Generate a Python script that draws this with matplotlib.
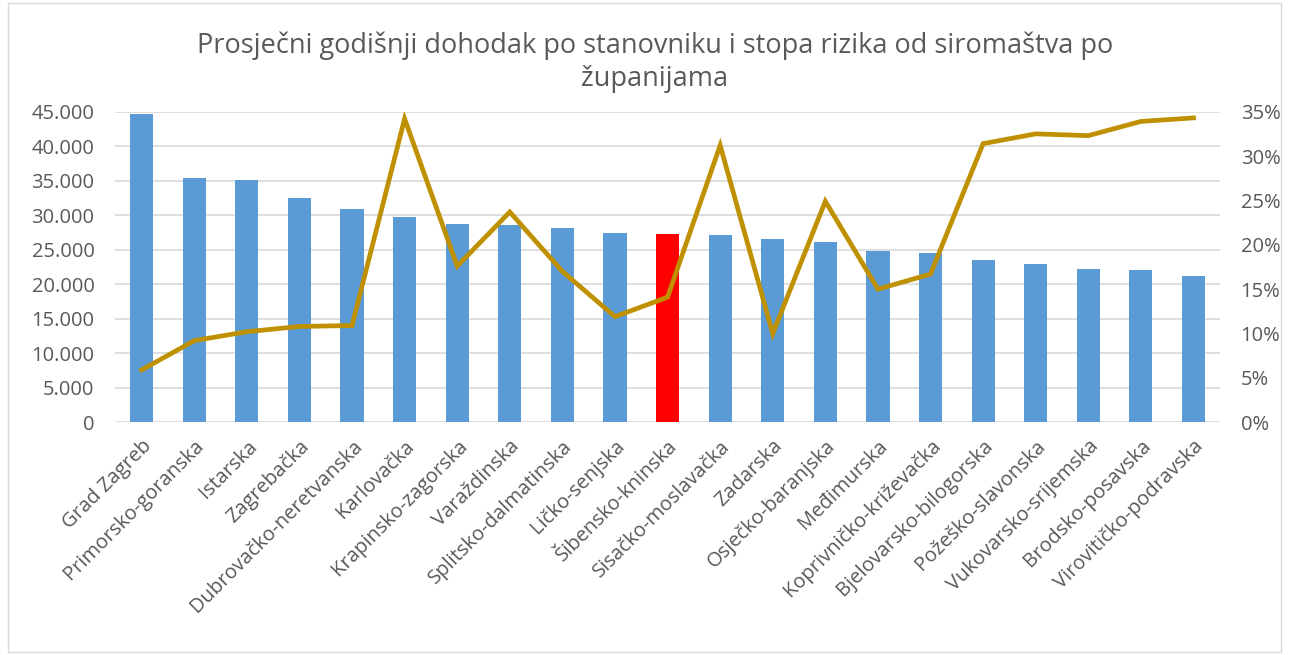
import matplotlib.pyplot as plt
from matplotlib.patches import Rectangle
from matplotlib.ticker import FuncFormatter, MultipleLocator

# data
zupanije = [
    "Grad Zagreb", "Primorsko-goranska", "Istarska", "Zagrebačka",
    "Dubrovačko-neretvanska", "Karlovačka", "Krapinsko-zagorska",
    "Varaždinska", "Splitsko-dalmatinska", "Ličko-senjska",
    "Šibensko-kninska", "Sisačko-moslavačka", "Zadarska",
    "Osječko-baranjska", "Međimurska", "Koprivničko-križevačka",
    "Bjelovarsko-bilogorska", "Požeško-slavonska", "Vukovarsko-srijemska",
    "Brodsko-posavska", "Virovitičko-podravska",
]
dohodak = [44660, 35340, 35150, 32540, 30900, 29690, 28780, 28630, 28200,
           27380, 27230, 27140, 26600, 26170, 24770, 24530, 23470, 22890,
           22210, 22020, 21250]
stopa_rizika = [5.9, 9.2, 10.2, 10.8, 10.9, 34.2, 17.6, 23.7, 17.0, 11.9,
                14.1, 31.2, 10.0, 24.9, 15.0, 16.7, 31.4, 32.5, 32.3, 33.9,
                34.3]
istaknuta = "Šibensko-kninska"

plt.rcParams['font.family'] = ['Open Sans', 'DejaVu Sans']
siva = "#595959"

fig = plt.figure(figsize=(12.89, 6.55), dpi=100)
ax = fig.add_axes([0.0895, 0.3553, 0.8568, 0.4742])

x = range(len(zupanije))
boje = ["#FF0000" if z == istaknuta else "#5B9BD5" for z in zupanije]
ax.bar(x, dohodak, width=0.44, color=boje, zorder=2)
ax.set_xlim(-0.5, len(zupanije) - 0.5)
ax.set_ylim(0, 45000)
ax.yaxis.set_major_locator(MultipleLocator(5000))
ax.yaxis.set_major_formatter(FuncFormatter(lambda v, p: f"{v:,.0f}".replace(",", ".")))
ax.grid(axis="y", color="#D9D9D9", linewidth=1.2, zorder=0)
ax.set_axisbelow(True)
for s in ax.spines.values():
    s.set_visible(False)
ax.tick_params(axis="y", length=0, labelsize=14.5, colors=siva, pad=15)
ax.tick_params(axis="x", length=0, colors=siva, pad=10)
ax.set_xticks(list(x))
ax.set_xticklabels(zupanije, rotation=45, ha="right", rotation_mode="anchor",
                   fontsize=14.5, color=siva)

ax2 = ax.twinx()
ax2.plot(x, stopa_rizika, color="#BF9000", linewidth=3.4, zorder=3,
         solid_joinstyle="miter")
ax2.set_ylim(0, 35)
ax2.yaxis.set_major_locator(MultipleLocator(5))
ax2.yaxis.set_major_formatter(FuncFormatter(lambda v, p: f"{v:.0f}%"))
for s in ax2.spines.values():
    s.set_visible(False)
ax2.tick_params(length=0, labelsize=14.5, colors=siva, pad=15)

fig.text(0.508, 0.905,
         "Prosječni godišnji dohodak po stanovniku i stopa rizika od siromaštva po\nžupanijama",
         ha="center", va="center", fontsize=19.5, color=siva, linespacing=1.25)

fig.patches.append(Rectangle((0.006, 0.005), 0.988, 0.99, transform=fig.transFigure,
                             fill=False, edgecolor="#D9D9D9", linewidth=1))

fig.savefig("out.png", dpi=100)
